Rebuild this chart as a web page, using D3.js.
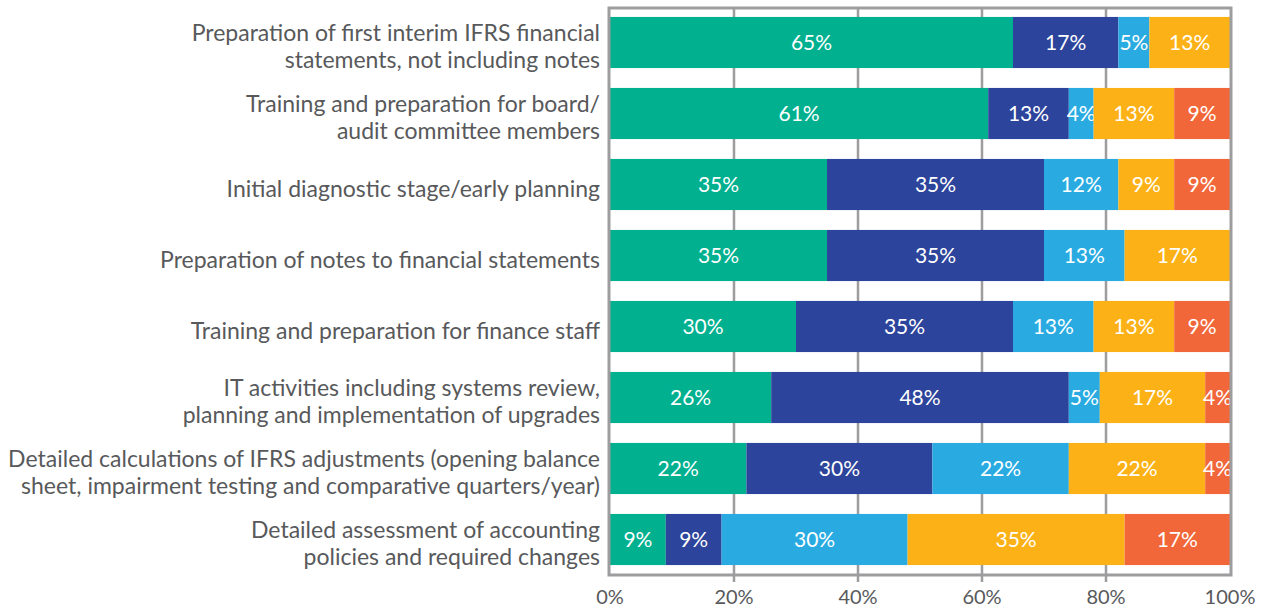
<!DOCTYPE html>
<html>
    <head>
        <style>
            body { margin: 0; background: #fff; }
            text { font-family: Lato, "Open Sans", sans-serif; }
        </style>
    </head>
    <body>
        <svg id="chart" width="1273" height="607"></svg>

        <script src="https://d3js.org/d3.v7.min.js"></script>
        <script>
            // categories, each split in its display lines
            const categories = [
                ["Preparation of first interim IFRS financial", "statements, not including notes"],
                ["Training and preparation for board/", "audit committee members"],
                ["Initial diagnostic stage/early planning"],
                ["Preparation of notes to financial statements"],
                ["Training and preparation for finance staff"],
                ["IT activities including systems review,", "planning and implementation of upgrades"],
                ["Detailed calculations of IFRS adjustments (opening balance", "sheet, impairment testing and comparative quarters/year)"],
                ["Detailed assessment of accounting", "policies and required changes"]
            ];

            // series values, one per category (percent)
            const seriesA = [65, 61, 35, 35, 30, 26, 22, 9];
            const seriesB = [17, 13, 35, 35, 35, 48, 30, 9];
            const seriesC = [5, 4, 12, 13, 13, 5, 22, 30];
            const seriesD = [13, 13, 9, 17, 13, 17, 22, 35];
            const seriesE = [0, 9, 9, 0, 9, 4, 4, 17];

            const tickValues = [0, 20, 40, 60, 80, 100];

            const keys = ["a", "b", "c", "d", "e"];
            const colors = ["#00b08f", "#2c449b", "#29abe2", "#fcb216", "#f1673a"];

            const table = categories.map((c, i) => ({
                id: i,
                a: seriesA[i], b: seriesB[i], c: seriesC[i], d: seriesD[i], e: seriesE[i]
            }));

            const svg = d3.select("#chart");

            const x = d3.scaleLinear().domain([0, 100]).range([610, 1230]);
            const y = d3.scaleBand()
                .domain(d3.range(categories.length))
                .range([7, 575])
                .paddingInner(0.28)
                .paddingOuter(0.14);
            const color = d3.scaleOrdinal().domain(keys).range(colors);

            const stacked = d3.stack().keys(keys)(table);

            // gridlines (with little ticks below the frame)
            svg.append("g")
                .selectAll("line")
                .data(tickValues.slice(1, -1))
                .join("line")
                    .attr("x1", d => x(d)).attr("x2", d => x(d))
                    .attr("y1", 8).attr("y2", 582)
                    .attr("stroke", "#9d9d9f")
                    .attr("stroke-width", 2.5);

            // bars
            const layer = svg.append("g")
                .selectAll("g")
                .data(stacked)
                .join("g")
                    .attr("fill", d => color(d.key));

            layer.selectAll("rect")
                .data(d => d.filter(s => s[1] - s[0] > 0))
                .join("rect")
                    .attr("x", d => x(d[0]))
                    .attr("width", d => x(d[1]) - x(d[0]))
                    .attr("y", d => y(d.data.id))
                    .attr("height", y.bandwidth());

            // value labels
            layer.selectAll("text")
                .data(d => d.filter(s => s[1] - s[0] > 0))
                .join("text")
                    .attr("x", d => (x(d[0]) + x(d[1])) / 2)
                    .attr("y", d => y(d.data.id) + y.bandwidth() / 2)
                    .attr("dy", "0.36em")
                    .attr("text-anchor", "middle")
                    .attr("fill", "#fff")
                    .attr("font-size", 21)
                    .text(d => (d[1] - d[0]) + "%");

            // frame
            svg.append("path")
                .attr("d", `M${x(0) - 1},575V8H${x(100) + 1}V575Z`)
                .attr("fill", "none")
                .attr("stroke", "#9d9d9f")
                .attr("stroke-width", 3);

            // category labels
            const lab = svg.append("g")
                .attr("fill", "#58595b")
                .attr("font-size", 23)
                .attr("text-anchor", "end")
                .selectAll("text")
                .data(categories)
                .join("text")
                    .attr("x", 600)
                    .attr("y", (d, i) => y(i) + y.bandwidth() / 2 + 4 - (d.length - 1) * 13.5);
            lab.selectAll("tspan")
                .data(d => d)
                .join("tspan")
                    .attr("x", 600)
                    .attr("dy", (d, i) => i ? 27 : 8)
                    .text(d => d);

            // x axis tick labels
            svg.append("g")
                .attr("fill", "#58595b")
                .attr("font-size", 20)
                .attr("text-anchor", "middle")
                .selectAll("text")
                .data(tickValues)
                .join("text")
                    .attr("x", d => x(d))
                    .attr("y", 604)
                    .text(d => d + "%");
        </script>
    </body>
</html>
